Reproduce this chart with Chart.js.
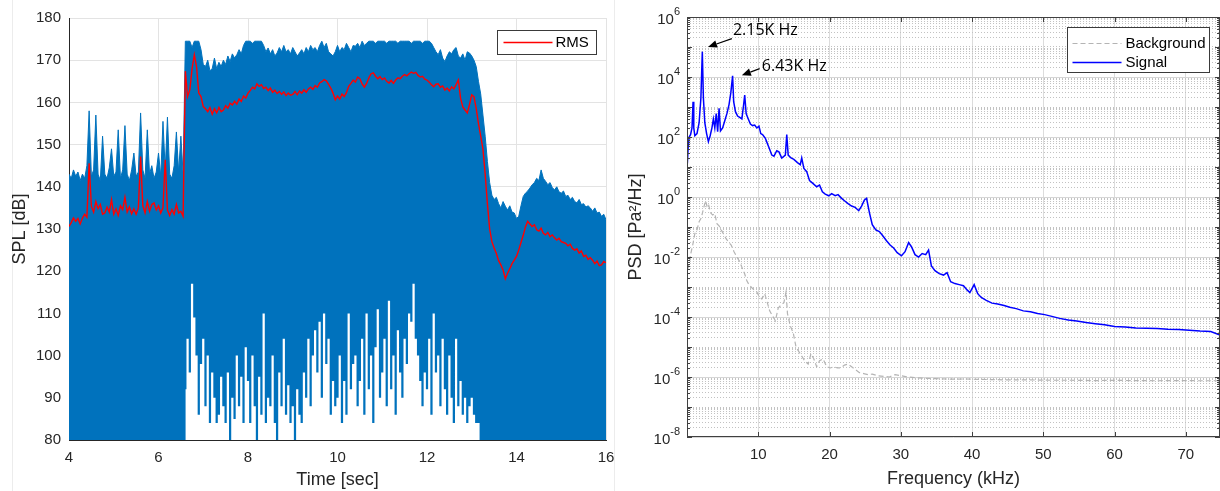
<!DOCTYPE html>
<html>
<head>
<meta charset="utf-8">
<script src="https://cdn.jsdelivr.net/npm/chart.js@4.4.1/dist/chart.umd.min.js"></script>
<style>
  html, body { margin: 0; padding: 0; background: #fff; }
  #wrap { position: relative; width: 1220px; height: 491px; overflow: hidden; }
  #splBox { position: absolute; left: 0; top: 0; width: 615px; height: 491px; }
  #psdBox { position: absolute; left: 615px; top: 0; width: 605px; height: 491px; }
  .frame { position: absolute; left: 12px; top: 0; width: 601px; height: 491px;
           border-left: 1px solid #ececec; border-right: 1px solid #ececec; }
</style>
</head>
<body>
<div id="wrap">
  <div class="frame"></div>
  <div id="splBox"><canvas id="splChart"></canvas></div>
  <div id="psdBox"><canvas id="psdChart"></canvas></div>
</div>
<script>
// ---- left panel: SPL time history, one value every 0.05 s from 4 s to 16 s ----
const splStart = 4;
const splStep = 0.05;
const splPeak = [
  143, 142, 144, 142.5, 143.5, 141.5, 143, 142, 145, 158, 142.5, 144, 157, 143, 141.5, 152, 143, 142, 144.5, 149,
  142.5, 143.5, 153.5, 142, 144, 154.5, 143, 141.5, 144, 148, 142.5, 143.5, 157.5, 144, 142, 153.5, 143, 145, 142, 143.5,
  148, 142.5, 155.5, 144, 156.5, 143, 142, 145, 153, 143.5, 152, 143, 174.5, 174.5, 174.5, 173, 174.5, 174.5, 174.5, 172.5,
  169, 168.5, 170, 167.5, 168, 170.5, 168, 169.5, 168.5, 170, 169, 171, 169.7, 171.5, 170.5, 171.3, 172.5, 171.5, 173.5, 174.5,
  174.5, 174.5, 174, 174.5, 174.5, 174.5, 174.5, 173.5, 172, 172.9, 171.5, 172.5, 171, 171.7, 173, 172, 173.5, 172, 172.5, 171.5,
  173, 172, 171, 171.7, 172.5, 171.5, 173, 172, 173.5, 172.5, 173, 172, 173.5, 174.5, 173, 174, 172, 171.5, 171, 172,
  173.5, 172, 173, 172.5, 174, 173, 172, 173.5, 173.3, 174, 173, 174.5, 173.5, 174, 174.5, 174.5, 174.5, 174, 174.5, 174.5,
  174.5, 174.5, 174, 174.5, 174.5, 174.5, 174.5, 174, 174.5, 174.5, 174.5, 174.5, 174.5, 174, 174.5, 174.5, 174.5, 174.5, 174, 174.5,
  174.5, 174.5, 174, 173, 172, 171.3, 172.5, 170.5, 169.7, 171, 172, 171.5, 172.5, 173, 171, 170.5, 171.5, 170, 172, 171.7,
  171, 170, 168.5, 165, 162, 157, 152, 146, 141, 138, 137, 137.5, 136, 135, 136.5, 135.4, 134.5, 135.5, 134, 133.8,
  132.5, 133, 135.5, 137.7, 138.5, 139, 139.7, 140.5, 141, 142, 141.5, 144, 142, 141.3, 140.5, 141, 139.8, 139.3, 140, 138.8,
  138.5, 139, 137.7, 138, 137, 137.5, 136.5, 136.2, 137, 135.8, 136, 135.2, 135.5, 135, 134.2, 135, 133.8, 134, 133, 133.5,
  132.2
];
const splRms = [
  130.6, 131.5, 132.6, 131.8, 132.5, 131.2, 132.6, 133.5, 132.8, 145.6, 135.4, 134, 136.5, 134.8, 135.8, 133.5, 133.8, 135.2, 134, 137,
  133.5, 134.8, 133.2, 135.5, 134.6, 137.5, 134, 135.2, 133.6, 134.8, 133.5, 135, 147.2, 135.5, 133.8, 136.5, 134.2, 135.8, 136.2, 134.5,
  135.5, 133.8, 135, 146.4, 134.5, 133.2, 134.6, 133.5, 135.8, 133.8, 134.2, 133, 167.4, 161.4, 163, 168, 171.3, 168.5, 162.2, 161.4,
  159, 158.5, 157.8, 158.8, 157.2, 158.5, 157.5, 158.8, 157.8, 158.2, 159.2, 158.6, 159.8, 159.4, 160.3, 159.6, 160.8, 160.2, 161.5, 161,
  162.2, 162.8, 163.6, 163.2, 164.4, 163.8, 164.2, 163.3, 163.6, 162.8, 163.4, 162.4, 162.9, 162.1, 162.6, 161.9, 162.5, 161.6, 162.2, 161.7,
  161.9, 162.6, 161.8, 162.7, 162.2, 163, 162.4, 163.2, 163.6, 163.1, 164, 163.6, 164.6, 164.9, 165.4, 165.1, 164.3, 163.4, 162.2, 160.6,
  161.5, 160.8, 162, 161.4, 162.3, 163.8, 164.5, 165.3, 164.8, 166, 165.6, 164.4, 163.6, 164.5, 165.8, 166.8, 167, 166.2, 165.6, 166.1,
  165.4, 165.8, 165, 164.6, 165.2, 164.5, 165.3, 165.8, 165.6, 166.2, 166.6, 166.3, 166.8, 167.2, 166.9, 167.1, 166.4, 166, 166.2, 165.5,
  165.3, 164.8, 164.2, 163.7, 164.3, 164.4, 163.6, 163.9, 162.9, 163.4, 162.7, 163.7, 163.2, 164.2, 165.3, 161, 158.9, 158.2, 157.5, 159.5,
  161.8, 161.3, 158.5, 155, 152, 149, 143, 136, 130, 127, 125.5, 124.2, 122.5, 121.5, 120.3, 118.2, 119.5, 120.6, 121.8, 122.6,
  123.5, 125, 126.8, 128.5, 130.5, 131.8, 131.2, 130.6, 131, 129.8, 129.5, 130.2, 129, 128.6, 129.2, 128.2, 128.6, 127.9, 127.4, 127.8,
  127, 126.8, 126.6, 126, 126.4, 125.4, 125, 125.3, 124.3, 124.8, 123.5, 123.8, 122.8, 123.2, 122.6, 121.8, 122.4, 121.3, 121.5, 122.3,
  122
];
// lowest level reached by the trace (white below it), 6.60 s to 13.20 s
const gapStart = 6.6;
const gapLevel = [
  92, 104, 96, 117, 109, 100, 86, 98,
  104, 88, 100, 84, 96, 90, 84, 86, 95, 88, 84, 96, 80, 90, 85, 100, 88, 95, 84, 102,
  94, 84, 100, 88, 80, 95, 86, 110, 84, 90, 88, 100, 84, 80, 96, 88, 104, 86, 93, 84,
  88, 80, 92, 86, 84, 96, 90, 104, 88, 100, 106, 96, 108, 90, 110, 98, 104, 86, 94, 88,
  90, 100, 84, 94, 86, 110, 92, 98, 100, 88, 94, 104, 86, 110, 92, 100, 84, 102, 111, 90,
  96, 104, 88, 113, 92, 100, 86, 106, 96, 90, 104, 98, 110, 108, 117, 104, 100, 94, 88, 96,
  92, 104, 86, 110, 96, 100, 88, 104, 92, 86, 100, 90, 84, 104, 88, 94, 86, 90, 84, 88,
  90, 86, 84, 84, 80
];
const timeTicks = [4, 6, 8, 10, 12, 14, 16];
const splTicks = [80, 90, 100, 110, 120, 130, 140, 150, 160, 170, 180];

// ---- right panel: PSD ----
const sigFreq = [
  0.05, 0.15, 0.3, 0.5, 0.7, 0.85, 0.95, 1.1, 1.4, 1.7,
  1.95, 2.15, 2.3, 2.5, 2.75, 3.0, 3.25, 3.5, 3.7, 3.9,
  4.1, 4.3, 4.5, 4.7, 5.0, 5.3, 5.6, 5.9, 6.15, 6.4,
  6.55, 6.8, 7.1, 7.4, 7.7, 7.95, 8.1, 8.3, 8.6, 8.9,
  9.2, 9.5, 9.8, 10.1, 10.35, 10.6, 11.0, 11.5, 11.9, 12.2,
  12.6, 12.9, 13.3, 13.8, 14.0, 14.2, 14.6, 15.0, 15.5, 15.9,
  16.1, 16.4, 16.8, 17.2, 17.7, 18.2, 18.6, 19.0, 19.4, 19.9,
  20.3, 20.8, 21.2, 21.7, 22.1, 22.6, 23.1, 23.6, 24.1, 24.5,
  24.9, 25.2, 25.6, 26.0, 26.5, 27.0, 27.5, 28.0, 28.5, 29.0,
  29.5, 30.1, 30.6, 31.1, 31.5, 32.0, 32.5, 33.0, 33.5, 33.9,
  34.3, 34.8, 35.4, 36.0, 36.5, 37.0, 37.6, 38.2, 38.8, 39.3,
  39.7, 40.3, 40.8, 41.3, 42.0, 42.8, 43.6, 44.5, 45.3, 46.2,
  47.2, 48.2, 49.2, 50.2, 51.2, 52.3, 53.5, 54.7, 56.0, 57.3,
  58.6, 60.0, 61.5, 63.0, 64.5, 66.0, 67.5, 69.0, 70.5, 72.0,
  73.5, 74.8
];
const sigPsd = [
  1.3e1, 4e1, 1e2, 1.2e2, 2e2, 1.5e3, 2e2, 1.1e2, 1.3e2, 3e2,
  2e3, 7e4, 2e3, 3e2, 1.3e2, 7e1, 1.1e2, 2e2, 4e2, 2e2,
  6e2, 1.5e2, 9e2, 1.6e2, 2e2, 3.5e2, 6e2, 1.2e3, 3e3, 1.1e4,
  1.5e3, 7e2, 5e2, 4.5e2, 4e2, 1.2e3, 2.5e3, 6e2, 4e2, 2.7e2,
  2.4e2, 2.5e2, 2e2, 2.3e2, 1.3e2, 1.2e2, 9e1, 4.5e1, 2.5e1, 2.3e1,
  3.5e1, 3.2e1, 2e1, 2.5e1, 1.2e2, 2.5e1, 2e1, 1.8e1, 1.4e1, 1.2e1,
  2e1, 9, 7, 3.5, 2.8, 2.2, 2.5, 1.5, 1.25, 1.1,
  1.3, 1.1, 1.2, 0.9, 0.75, 0.6, 0.5, 0.45, 0.35, 0.5,
  0.8, 0.9, 0.3, 0.12, 0.08, 0.07, 0.05, 0.035, 0.025, 0.02,
  0.014, 0.011, 0.015, 0.03, 0.022, 0.012, 0.01, 0.013, 0.012, 0.017,
  5e-3, 3.5e-3, 2.8e-3, 2.5e-3, 3e-3, 1.5e-3, 1.3e-3, 1.2e-3, 1.1e-3, 8e-4,
  6.5e-4, 1.2e-3, 6e-4, 4.5e-4, 3.6e-4, 2.9e-4, 2.7e-4, 2.4e-4, 2.1e-4, 1.9e-4,
  1.6e-4, 1.5e-4, 1.3e-4, 1.2e-4, 1.05e-4, 9e-5, 8e-5, 7.3e-5, 6.5e-5, 6e-5,
  5.5e-5, 4.8e-5, 4.6e-5, 4.3e-5, 4.2e-5, 4.1e-5, 3.9e-5, 3.8e-5, 3.6e-5, 3.4e-5,
  3.3e-5, 2.5e-5
];
const bgFreq = [
  0.1, 0.3, 0.5, 0.8, 1.1, 1.4, 1.7, 2.0, 2.3, 2.6,
  2.8, 3.0, 3.3, 3.6, 3.9, 4.2, 4.5, 4.8, 5.1, 5.5,
  5.9, 6.2, 6.6, 7.0, 7.4, 7.8, 8.1, 8.4, 8.7, 9.0,
  9.4, 9.7, 10.1, 10.5, 10.9, 11.2, 11.6, 12.0, 12.4, 12.8,
  13.2, 13.6, 13.9, 14.1, 14.5, 14.9, 15.3, 15.7, 16.1, 16.5,
  17.0, 17.4, 17.8, 18.2, 18.6, 19.1, 19.6, 20.1, 20.6, 21.1,
  21.6, 22.1, 22.6, 23.1, 23.6, 24.2, 24.8, 25.4, 26.0, 26.8,
  27.6, 28.4, 29.2, 30.0, 31.0, 32.0, 33.5, 35, 37, 39,
  41, 43, 45, 48, 51, 54, 57, 60, 63, 66,
  69, 72, 74.8
];
const bgPsd = [
  4e-3, 6e-3, 1.2e-2, 2.5e-2, 6e-2, 8e-2, 1.5e-1, 2e-1, 4e-1, 7.5e-1,
  5e-1, 6e-1, 3e-1, 2.5e-1, 2.8e-1, 1.3e-1, 1.1e-1, 8e-2, 6e-2, 4e-2,
  3e-2, 2.5e-2, 1.5e-2, 1e-2, 7e-3, 4e-3, 2.7e-3, 1.6e-3, 1.2e-3, 1e-3,
  8e-4, 7.5e-4, 5e-4, 4e-4, 6e-4, 3.5e-4, 1.6e-4, 1.1e-4, 7.5e-5, 2e-4,
  2.5e-4, 3e-4, 7e-4, 1.3e-4, 5e-5, 3e-5, 1e-5, 7e-6, 5e-6, 3.5e-6,
  2.7e-6, 6e-6, 4e-6, 2.2e-6, 3.5e-6, 4e-6, 2.2e-6, 2e-6, 2.2e-6, 2e-6,
  2e-6, 2.5e-6, 2.7e-6, 2.2e-6, 1.8e-6, 1.4e-6, 1.3e-6, 1.2e-6, 1.25e-6, 1.1e-6,
  1.05e-6, 1e-6, 1.2e-6, 1.1e-6, 1e-6, 9.5e-7, 9e-7, 8.8e-7, 8.5e-7, 8.6e-7,
  8.3e-7, 8.2e-7, 8e-7, 8e-7, 7.8e-7, 7.8e-7, 7.6e-7, 7.7e-7, 7.6e-7, 7.5e-7,
  7.6e-7, 7.5e-7, 7.5e-7
];
const freqTicks = [10, 20, 30, 40, 50, 60, 70];
const psdExps = [-8, -6, -4, -2, 0, 2, 4, 6];

// peak call-outs (text anchor, arrow tail, arrow head) in data units
const peakNotes = [
  { text: '2.15K Hz', tx: 6.45, ty: 3.7e5, fx: 6.3, fy: 1.9e5, hx: 2.95, hy: 1.0e5 },
  { text: '6.43K Hz', tx: 10.5, ty: 2.2e4, fx: 10.2, fy: 1.9e4, hx: 7.7, hy: 1.15e4 }
];

Chart.defaults.font.family = "'Liberation Sans', Arial, sans-serif";
Chart.defaults.color = '#262626';
Chart.defaults.animation = false;

function evenSeries(start, step, values) {
  return values.map((v, i) => ({ x: +(start + i * step).toFixed(3), y: v }));
}
function pairSeries(xs, ys) {
  return xs.map((x, i) => ({ x: x, y: ys[i] }));
}

// all 1..9 x 10^k grid values for the log axis
const psdGrid = [];
for (let e = psdExps[0]; e <= psdExps[psdExps.length - 1]; e++) {
  for (let m = 1; m <= 9; m++) {
    if (e === psdExps[psdExps.length - 1] && m > 1) break;
    psdGrid.push(m * Math.pow(10, e));
  }
}
function isDecade(v) {
  const l = Math.log10(v);
  return Math.abs(l - Math.round(l)) < 1e-6;
}
function isLabelled(v) {
  return isDecade(v) && psdExps.includes(Math.round(Math.log10(v)));
}

// legend drawn as a boxed key inside the plot area
const boxLegend = {
  id: 'boxLegend',
  afterDraw(chart, args, opts) {
    const { ctx, chartArea } = chart;
    const x = Math.round(chartArea.right - opts.right - opts.width) + 0.5;
    const y = Math.round(chartArea.top + opts.top) + 0.5;
    ctx.save();
    ctx.fillStyle = '#ffffff';
    ctx.fillRect(x, y, opts.width, opts.height);
    ctx.strokeStyle = '#3a3a3a';
    ctx.lineWidth = 1;
    ctx.strokeRect(x, y, opts.width, opts.height);
    ctx.font = opts.font;
    ctx.textBaseline = 'middle';
    opts.items.forEach((idx, row) => {
      const ds = chart.data.datasets[idx];
      const ly = y + opts.rowTop + row * opts.rowGap;
      ctx.strokeStyle = ds.borderColor;
      ctx.lineWidth = ds.borderWidth;
      ctx.setLineDash(ds.borderDash || []);
      ctx.beginPath();
      ctx.moveTo(x + opts.lineFrom, ly);
      ctx.lineTo(x + opts.lineTo, ly);
      ctx.stroke();
      ctx.setLineDash([]);
      ctx.fillStyle = '#000';
      ctx.fillText(ds.label, x + opts.textAt, ly);
    });
    ctx.restore();
  }
};

// frame, inward ticks, 10^n labels and peak arrows for the PSD panel
const psdDeco = {
  id: 'psdDeco',
  afterDraw(chart) {
    const { ctx, chartArea: a, scales: { x, y } } = chart;
    ctx.save();
    ctx.strokeStyle = '#404040';
    ctx.lineWidth = 1;
    ctx.strokeRect(Math.round(a.left) + 0.5, Math.round(a.top) + 0.5,
      Math.round(a.right - a.left) - 1, Math.round(a.bottom - a.top) - 1);
    ctx.beginPath();
    psdGrid.forEach(v => {
      const py = Math.round(y.getPixelForValue(v)) + 0.5;
      const len = isDecade(v) ? 5 : 3;
      ctx.moveTo(a.left, py); ctx.lineTo(a.left + len, py);
      ctx.moveTo(a.right, py); ctx.lineTo(a.right - len, py);
    });
    freqTicks.forEach(f => {
      const px = Math.round(x.getPixelForValue(f)) + 0.5;
      ctx.moveTo(px, a.bottom); ctx.lineTo(px, a.bottom - 5);
      ctx.moveTo(px, a.top); ctx.lineTo(px, a.top + 5);
    });
    ctx.stroke();

    ctx.fillStyle = '#262626';
    ctx.textBaseline = 'middle';
    ctx.textAlign = 'right';
    psdExps.forEach(e => {
      const py = y.getPixelForValue(Math.pow(10, e));
      const right = a.left - 7;
      ctx.font = "11px 'Liberation Sans', Arial, sans-serif";
      const sup = String(e);
      const w = ctx.measureText(sup).width;
      ctx.fillText(sup, right, py - 5);
      ctx.font = "15px 'Liberation Sans', Arial, sans-serif";
      ctx.fillText('10', right - w, py + 3);
    });

    ctx.textAlign = 'left';
    ctx.font = "16px 'Open Sans', 'Noto Sans', sans-serif";
    peakNotes.forEach(n => {
      const fx = x.getPixelForValue(n.fx), fy = y.getPixelForValue(n.fy);
      const hx = x.getPixelForValue(n.hx), hy = y.getPixelForValue(n.hy);
      const ang = Math.atan2(hy - fy, hx - fx);
      const len = 9, half = 3.8;
      const bx = hx - len * Math.cos(ang), by = hy - len * Math.sin(ang);
      ctx.strokeStyle = '#000';
      ctx.lineWidth = 1.2;
      ctx.beginPath();
      ctx.moveTo(fx, fy);
      ctx.lineTo(bx, by);
      ctx.stroke();
      ctx.fillStyle = '#000';
      ctx.beginPath();
      ctx.moveTo(hx, hy);
      ctx.lineTo(bx + half * Math.sin(ang), by - half * Math.cos(ang));
      ctx.lineTo(bx - half * Math.sin(ang), by + half * Math.cos(ang));
      ctx.closePath();
      ctx.fill();
      ctx.fillText(n.text, x.getPixelForValue(n.tx), y.getPixelForValue(n.ty));
    });
    ctx.restore();
  }
};

new Chart(document.getElementById('splChart'), {
  type: 'line',
  data: {
    datasets: [
      {
        label: 'RMS',
        data: evenSeries(splStart, splStep, splRms),
        borderColor: '#ff0000',
        borderWidth: 1.4,
        pointRadius: 0,
        fill: false,
        order: 0
      },
      {
        label: 'gaps',
        data: evenSeries(gapStart, splStep, gapLevel),
        borderColor: 'rgba(255,255,255,0)',
        borderWidth: 0,
        backgroundColor: '#ffffff',
        pointRadius: 0,
        stepped: 'middle',
        fill: 'start',
        order: 1
      },
      {
        label: 'SPL',
        data: evenSeries(splStart, splStep, splPeak),
        borderColor: '#0072bd',
        borderWidth: 1,
        backgroundColor: '#0072bd',
        pointRadius: 0,
        fill: 'start',
        order: 2
      }
    ]
  },
  options: {
    responsive: true,
    maintainAspectRatio: false,
    layout: { padding: { top: 18, right: 0, left: 0, bottom: 0 } },
    plugins: {
      legend: { display: false },
      tooltip: { enabled: false },
      boxLegend: {
        items: [0], right: 10, top: 12, width: 99, height: 24,
        rowTop: 12, rowGap: 0, lineFrom: 6, lineTo: 55, textAt: 58,
        font: "15px 'Liberation Sans', Arial, sans-serif"
      }
    },
    scales: {
      x: {
        type: 'linear',
        min: 4,
        max: 16,
        afterBuildTicks: s => { s.ticks = timeTicks.map(v => ({ value: v })); },
        afterFit: s => { s.height = 51; s.paddingRight = 9; },
        grid: { color: '#e3e3e3', drawTicks: false },
        border: { color: '#262626' },
        ticks: { padding: 9, font: { size: 15 }, color: '#262626' },
        title: { display: true, text: 'Time [sec]', font: { size: 18 }, padding: 0 }
      },
      y: {
        min: 80,
        max: 180,
        afterBuildTicks: s => { s.ticks = splTicks.map(v => ({ value: v })); },
        afterFit: s => { s.width = 69; },
        grid: { color: '#e3e3e3', drawTicks: false },
        border: { color: '#262626' },
        ticks: { padding: 8, font: { size: 15 }, color: '#262626' },
        title: { display: true, text: 'SPL [dB]', font: { size: 18 }, padding: { top: 9, bottom: 0 } }
      }
    }
  },
  plugins: [boxLegend]
});

new Chart(document.getElementById('psdChart'), {
  type: 'line',
  data: {
    datasets: [
      {
        label: 'Background',
        data: pairSeries(bgFreq, bgPsd),
        borderColor: '#b4b4b4',
        borderWidth: 1.2,
        borderDash: [5, 3],
        pointRadius: 0,
        fill: false
      },
      {
        label: 'Signal',
        data: pairSeries(sigFreq, sigPsd),
        borderColor: '#0000ff',
        borderWidth: 1.5,
        pointRadius: 0,
        fill: false
      }
    ]
  },
  options: {
    responsive: true,
    maintainAspectRatio: false,
    layout: { padding: { top: 17, right: 0, left: 0, bottom: 0 } },
    plugins: {
      legend: { display: false },
      tooltip: { enabled: false },
      boxLegend: {
        items: [0, 1], right: 11, top: 10, width: 142, height: 45,
        rowTop: 16, rowGap: 19, lineFrom: 5, lineTo: 54, textAt: 58,
        font: "15px 'Liberation Sans', Arial, sans-serif"
      }
    },
    scales: {
      x: {
        type: 'linear',
        min: 0,
        max: 74.8,
        afterBuildTicks: s => { s.ticks = freqTicks.map(v => ({ value: v })); },
        afterFit: s => { s.height = 54; },
        grid: { color: '#dcdcdc', drawTicks: false },
        border: { display: false },
        ticks: { padding: 9, font: { size: 15 }, color: '#262626' },
        title: { display: true, text: 'Frequency (kHz)', font: { size: 18 }, padding: 1 }
      },
      y: {
        type: 'logarithmic',
        min: 1e-8,
        max: 1e6,
        afterBuildTicks: s => { s.ticks = psdGrid.map(v => ({ value: v })); },
        afterFit: s => { s.width = 72; },
        grid: {
          drawTicks: false,
          color: c => (c.tick && isLabelled(c.tick.value)) ? '#d6d6d6' : '#c2c2c2'
        },
        border: {
          display: false,
          dash: c => (c.tick && !isLabelled(c.tick.value)) ? [1, 2] : []
        },
        ticks: { display: false, autoSkip: false },
        title: { display: true, text: 'PSD [Pa²/Hz]', font: { size: 18 }, padding: { top: 10, bottom: 0 } }
      }
    }
  },
  plugins: [boxLegend, psdDeco]
});
</script>
</body>
</html>
